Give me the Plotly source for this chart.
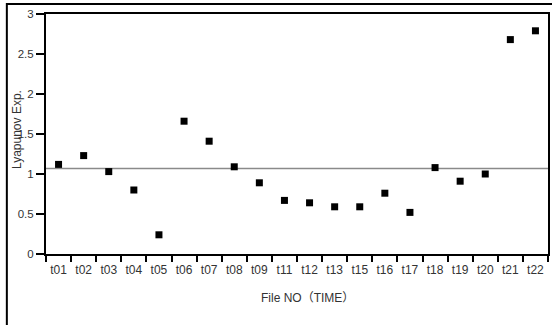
import plotly.graph_objects as go

categories = ["t01", "t02", "t03", "t04", "t05", "t06", "t07", "t08", "t09", "t11",
              "t12", "t13", "t15", "t16", "t17", "t18", "t19", "t20", "t21", "t22"]
lyapunov = [1.12, 1.23, 1.03, 0.80, 0.24, 1.66, 1.41, 1.09, 0.89, 0.67,
            0.64, 0.59, 0.59, 0.76, 0.52, 1.08, 0.91, 1.00, 2.68, 2.79]
mean_line = 1.07
y_ticks = [0, 0.5, 1, 1.5, 2, 2.5, 3]
y_tick_text = ["0", "0.5", "1", "1.5", "2", "2.5", "3"]

FONT = "Liberation Sans, Arial, Noto Sans CJK JP, sans-serif"

fig = go.Figure()
fig.add_trace(go.Scatter(
    x=categories, y=lyapunov, mode="markers",
    marker=dict(symbol="square", size=7, color="black", line=dict(width=0)),
    showlegend=False, hoverinfo="x+y"))

fig.add_shape(type="line", xref="paper", yref="y", x0=0, x1=1, y0=mean_line, y1=mean_line,
              line=dict(color="#8a8a8a", width=1.5), layer="below")

# outer frame
fig.add_shape(type="rect", xref="paper", yref="paper", x0=-0.078, x1=1.3, y0=-0.6, y1=1.0417,
              line=dict(color="black", width=2), fillcolor="rgba(0,0,0,0)")

fig.add_annotation(text="Lyapunov Exp.", xref="paper", yref="paper", x=-0.0575, y=0.517,
                   textangle=-90, showarrow=False, xanchor="center", yanchor="middle",
                   font=dict(family=FONT, size=12, color="#333333"))
fig.add_annotation(text="File NO（TIME）", xref="paper", yref="paper", x=0.52, y=-0.183,
                   showarrow=False, xanchor="center", yanchor="middle",
                   font=dict(family=FONT, size=12, color="#333333"))

fig.update_layout(
    width=552, height=325,
    margin=dict(l=46, r=2, t=14, b=71),
    paper_bgcolor="white", plot_bgcolor="white",
    font=dict(family=FONT, color="#333333"),
    xaxis=dict(type="category", range=[-0.5, len(categories) - 0.5], tickson="boundaries",
               ticks="outside", ticklen=6, tickwidth=2, tickcolor="black", tickangle=0,
               ticklabelstandoff=4,
               showline=True, linecolor="black", linewidth=2, mirror=True,
               showgrid=False, zeroline=False,
               tickfont=dict(family=FONT, size=12, color="#333333")),
    yaxis=dict(range=[0, 3], tickvals=y_ticks, ticktext=y_tick_text,
               ticks="outside", ticklen=8, tickwidth=2, tickcolor="black",
               showline=True, linecolor="black", linewidth=2, mirror=True,
               showgrid=False, zeroline=False,
               tickfont=dict(family=FONT, size=11.5, color="#333333")),
)

fig.write_html("out.html", config={"displayModeBar": False},
               post_script="document.body.style.margin='0px';")
